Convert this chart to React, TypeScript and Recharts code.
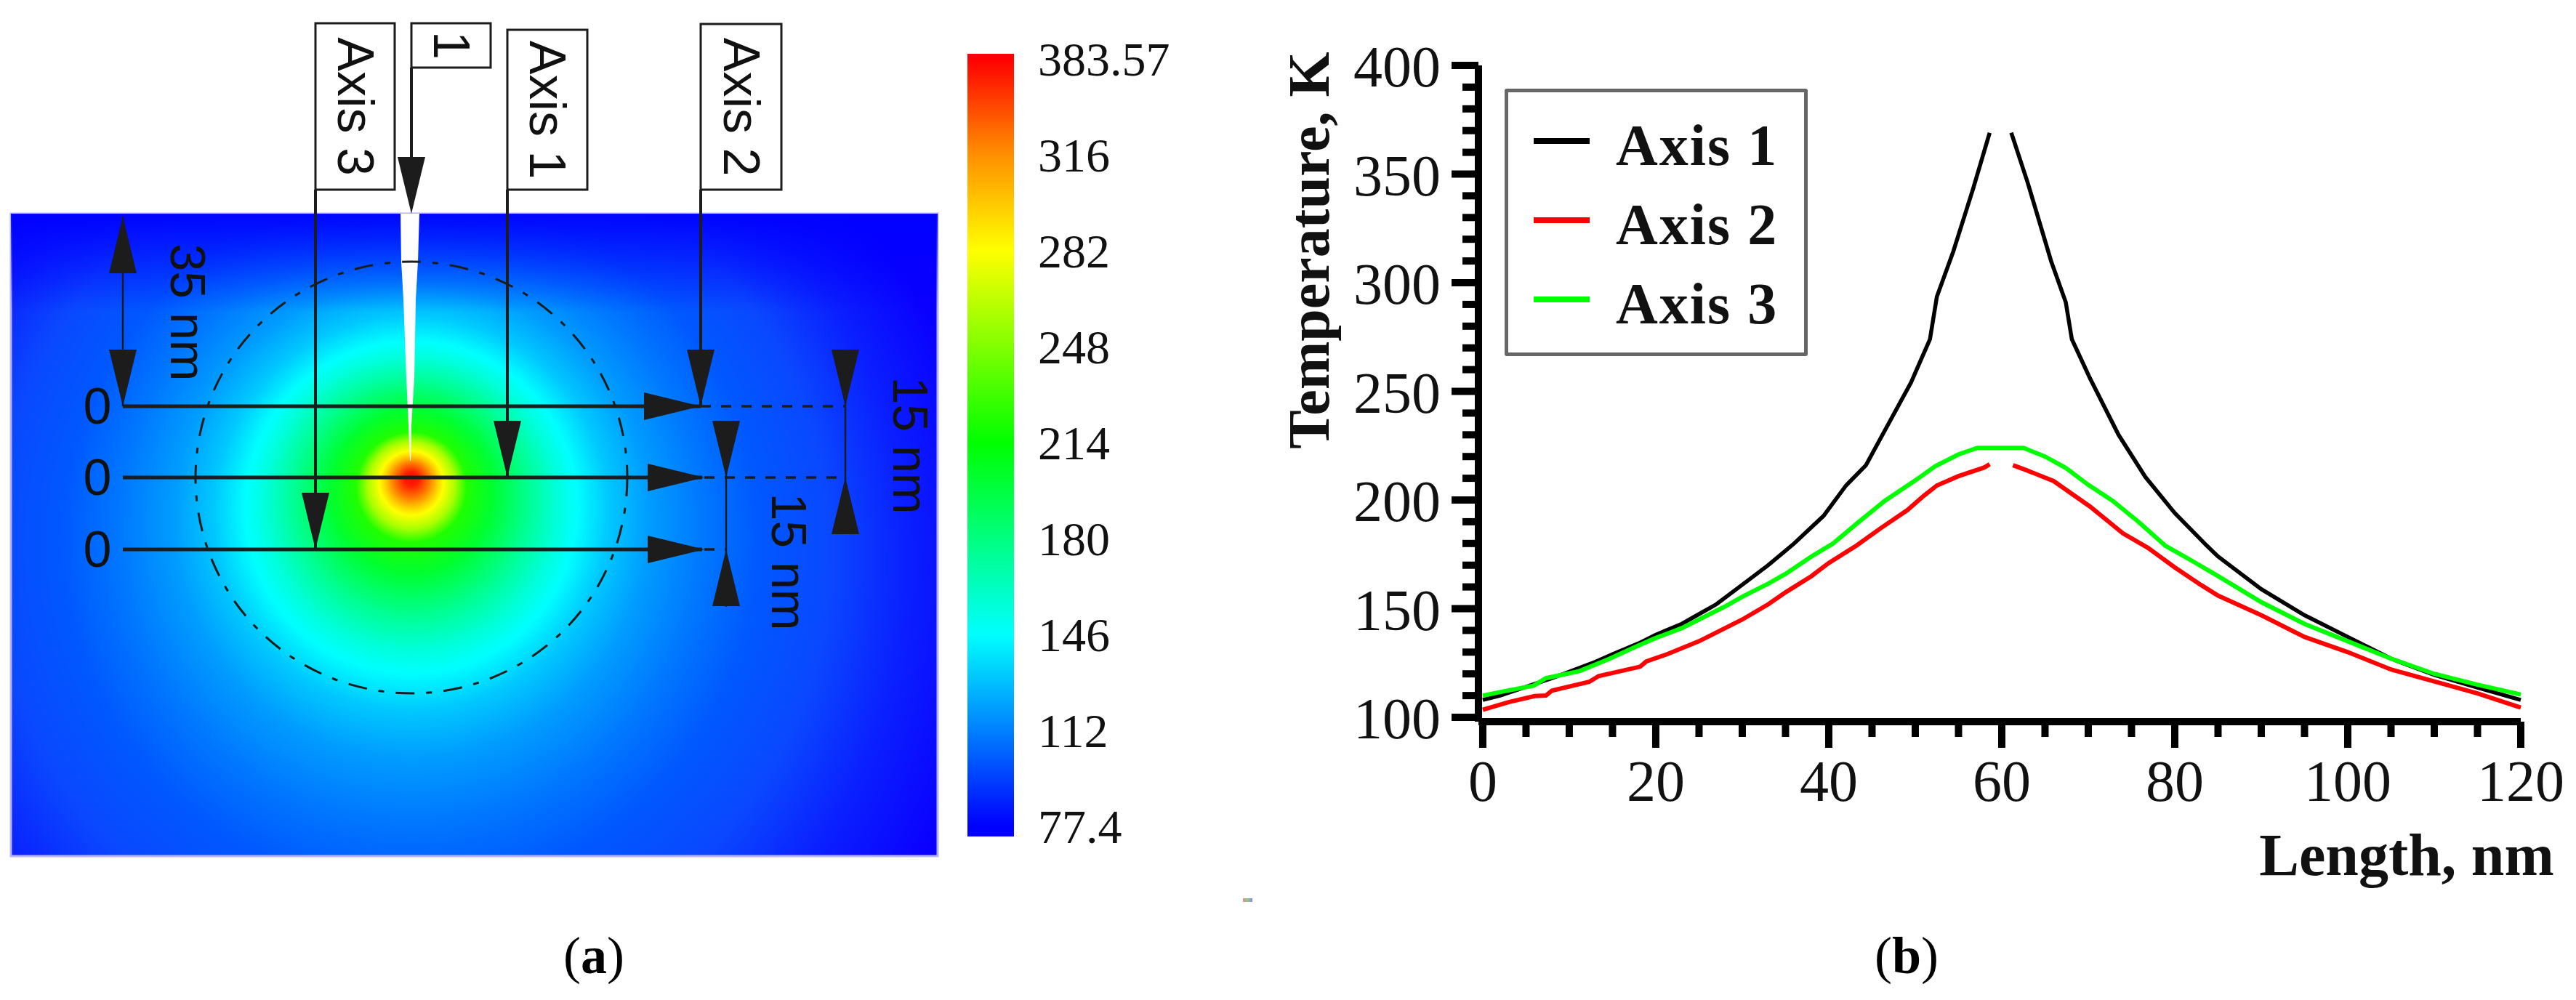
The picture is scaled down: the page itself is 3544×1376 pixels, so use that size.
import React from 'react'
import { ComposedChart, LineChart, Line, XAxis, YAxis, ReferenceArea, Legend } from 'recharts'

const SERIF = '"Liberation Serif", serif'
const SANS = '"Liberation Sans", sans-serif'
const INK = '#1c1c1c'

// panel (b): temperature along each axis. null = gap at the tip
const axis1X = [0, 2, 5, 8, 10, 13, 15, 18, 20, 23, 25, 27, 30, 33, 36, 39.4, 42, 44.3, 45.8, 49.5, 51.7, 52.5, 54.4, 56.7, 58.6, 60, 61.1, 63, 65.7, 67.4, 68.1, 70.2, 73.5, 76.6, 80, 83.7, 85, 90, 95, 100, 105, 110, 115, 120]
const axis1T = [108, 110, 114, 118, 121, 125.5, 129, 134, 138, 143, 147.5, 152, 161, 170, 180, 192.7, 206.7, 216, 227, 254, 274, 293.6, 314.4, 343.4, 369, null, 369, 346, 310, 291, 274, 256, 230, 210.6, 194, 179, 174, 159, 147, 137, 127, 119.5, 113.7, 108]

const axis2X = [0, 3, 6, 7.3, 8, 12.3, 13.4, 18.2, 18.9, 21.3, 25, 27, 30, 33, 35, 38, 40, 43.2, 46, 49.1, 51, 52.5, 55, 58, 58.6, 60, 61.3, 63, 66, 70.2, 74, 76.9, 80, 83, 85, 90, 95, 100, 105, 110, 115, 120]
const axis2T = [103.5, 107, 109.8, 110, 112.3, 116.3, 119, 123.3, 125.7, 129, 135, 139, 145, 152, 157.5, 165, 171, 179, 187, 195.4, 202, 206.7, 211, 215, 216.5, null, 216, 213.5, 208.7, 197, 184.7, 178, 169, 161, 156, 147, 137, 130, 122, 116.5, 111, 104.5]

const axis3X = [0, 2.5, 5.9, 7.3, 11.2, 14.5, 18, 20, 23, 25, 28, 30, 33, 35, 38, 40.5, 43.5, 46.5, 50, 52.3, 55, 57.2, 60, 62.5, 65, 67.4, 70, 72.8, 75.8, 78.9, 82, 85, 90, 95, 100, 105, 110, 115, 120]
const axis3T = [110, 112, 114.6, 118, 121.3, 126.7, 133, 136.5, 141, 145, 151, 155.5, 161.5, 166, 174, 180, 190, 199.7, 209, 215.5, 221, 224, 224, 224, 220, 214.8, 207, 199.7, 190, 179, 172, 165, 153, 143, 135, 127, 120, 115, 110.5]

const lengthTicks = [0, 5, 10, 15, 20, 25, 30, 35, 40, 45, 50, 55, 60, 65, 70, 75, 80, 85, 90, 95, 100, 105, 110, 115, 120]
const tempTicks = [100, 110, 120, 130, 140, 150, 160, 170, 180, 190, 200, 210, 220, 230, 240, 250, 260, 270, 280, 290, 300, 310, 320, 330, 340, 350, 360, 370, 380, 390, 400]

// panel (a): colour bar labels, evenly spaced on the bar
const barLabels = ['77.4', '112', '146', '180', '214', '248', '282', '316', '383.57']
const barColors = ['#0000ff', '#0080ff', '#00ffff', '#00ff80', '#00ff00', '#80ff00', '#ffff00', '#ff9000', '#ff0000']

// field colours going outward from the hot spot
const fieldOffsets = [0, 0.012, 0.028, 0.045, 0.055, 0.075, 0.095, 0.14, 0.2, 0.25, 0.285, 0.34, 0.41, 0.5, 0.6, 0.72, 0.85, 1]
const fieldColors = ['#f01000', '#ff1c00', '#ff7000', '#ffd000', '#ffff00', '#a8ff00', '#20ff00', '#00ff30', '#00ff90', '#00ffd8', '#00ffff', '#00c8ff', '#009cff', '#0078ff', '#0058ff', '#0a48ff', '#0a20ff', '#0a00ff']

const zip = (xs: number[], ys: (number | null)[]) => xs.map((x, i) => ({ x, t: ys[i] }))

function YTick({ x, y, payload }: any) {
  const major = payload.value % 50 === 0
  const len = major ? 37 : 22
  return (
    <g>
      <rect x={x - len} y={y - 5} width={len} height={10} fill="#000" />
      {major && (
        <text x={x - 52} y={y + 2} textAnchor="end" dominantBaseline="central" fontSize={80} fontFamily={SERIF} fill="#111">
          {payload.value}
        </text>
      )}
    </g>
  )
}

function XTick({ x, y, payload }: any) {
  const major = payload.value % 20 === 0
  const len = major ? 36 : 21
  return (
    <g>
      <rect x={x - 5} y={y} width={10} height={len} fill="#000" />
      {major && (
        <text x={x} y={y + 82} textAnchor="middle" dominantBaseline="central" fontSize={80} fontFamily={SERIF} fill="#111">
          {payload.value}
        </text>
      )}
    </g>
  )
}

function LegendBox({ payload }: any) {
  return (
    <div style={{ width: 417, height: 368, boxSizing: 'border-box', border: '5px solid #666', borderRadius: 3, background: '#fff', position: 'relative' }}>
      {(payload || []).map((p: any, i: number) => (
        <div key={p.value} style={{ position: 'absolute', left: 35, top: 22 + i * 109, height: 90, display: 'flex', alignItems: 'center' }}>
          <span style={{ width: 77, height: 8, background: p.color, display: 'inline-block', marginRight: 36 }} />
          <span style={{ fontFamily: SERIF, fontWeight: 700, fontSize: 80, letterSpacing: 2, color: '#111', whiteSpace: 'nowrap', position: 'relative', top: 6 }}>{p.value}</span>
        </div>
      ))}
    </div>
  )
}

function Arrow({ tipX, tipY, dir, len = 78, half = 19 }: { tipX: number; tipY: number; dir: 'up' | 'down' | 'right'; len?: number; half?: number }) {
  let pts = ''
  if (dir === 'right') pts = `${tipX},${tipY} ${tipX - len},${tipY - half} ${tipX - len},${tipY + half}`
  if (dir === 'down') pts = `${tipX},${tipY} ${tipX - half},${tipY - len} ${tipX + half},${tipY - len}`
  if (dir === 'up') pts = `${tipX},${tipY} ${tipX - half},${tipY + len} ${tipX + half},${tipY + len}`
  return <polygon points={pts} fill={INK} />
}

function Rotated({ cx, cy, size, children }: { cx: number; cy: number; size: number; children: string }) {
  return (
    <text x={cx} y={cy} transform={`rotate(90 ${cx} ${cy})`} textAnchor="middle" dominantBaseline="central" fontSize={size} fontFamily={SANS} fill="#111">
      {children}
    </text>
  )
}

function LabelBox({ x, y, w, h, text }: { x: number; y: number; w: number; h: number; text: string }) {
  return (
    <g>
      <rect x={x} y={y} width={w} height={h} fill="#fff" stroke={INK} strokeWidth={3} />
      <Rotated cx={x + w / 2} cy={y + h / 2} size={70}>{text}</Rotated>
    </g>
  )
}

// schematic drawn over the temperature field, in picture pixels
function Schematic() {
  const line = { stroke: INK, strokeWidth: 5 }
  const thin = { stroke: INK, strokeWidth: 2.5 }
  const dash = { stroke: INK, strokeWidth: 3.5, strokeDasharray: '14 14' }
  return (
    <svg width={1320} height={1376} style={{ position: 'absolute', left: 0, top: 0, overflow: 'visible' }}>
      <polygon points="551,294 577,294 575,360 572,412 570,520 566,585 565,634 564,634 562,585 559,520 555,412 552,360" fill="#fff" />
      <circle cx={566} cy={657} r={297} fill="none" stroke={INK} strokeWidth={3} strokeDasharray="26 16 8 16" />

      <line x1={169} y1={559} x2={964} y2={559} {...line} />
      <line x1={169} y1={657} x2={966} y2={657} {...line} />
      <line x1={169} y1={756} x2={966} y2={756} {...line} />
      <Arrow tipX={964} tipY={559} dir="right" />
      <Arrow tipX={969} tipY={657} dir="right" />
      <Arrow tipX={969} tipY={756} dir="right" />

      <line x1={434} y1={261} x2={434} y2={756} stroke={INK} strokeWidth={4} />
      <line x1={698} y1={261} x2={698} y2={657} stroke={INK} strokeWidth={4} />
      <line x1={964} y1={261} x2={964} y2={559} stroke={INK} strokeWidth={4} />
      <line x1={566} y1={93} x2={566} y2={280} stroke={INK} strokeWidth={4} />
      <Arrow tipX={434} tipY={756} dir="down" />
      <Arrow tipX={698} tipY={657} dir="down" />
      <Arrow tipX={964} tipY={559} dir="down" />
      <Arrow tipX={566} tipY={294} dir="down" />

      <LabelBox x={434} y={32} w={109} h={229} text="Axis 3" />
      <LabelBox x={566} y={32} w={109} h={61} text="1" />
      <LabelBox x={698} y={41} w={110} h={220} text="Axis 1" />
      <LabelBox x={964} y={33} w={111} h={228} text="Axis 2" />

      <line x1={169} y1={298} x2={169} y2={559} {...thin} />
      <Arrow tipX={169} tipY={298} dir="up" />
      <Arrow tipX={169} tipY={559} dir="down" />
      <Rotated cx={259} cy={430} size={68}>35 nm</Rotated>

      <line x1={964} y1={559} x2={1163} y2={559} {...dash} />
      <line x1={969} y1={657} x2={1163} y2={657} {...dash} />
      <line x1={969} y1={756} x2={999} y2={756} {...dash} />

      <line x1={1163} y1={482} x2={1163} y2={735} {...thin} />
      <Arrow tipX={1163} tipY={559} dir="down" />
      <Arrow tipX={1163} tipY={657} dir="up" />
      <Rotated cx={1253} cy={613} size={68}>15 nm</Rotated>

      <line x1={999} y1={579} x2={999} y2={835} {...thin} />
      <Arrow tipX={999} tipY={657} dir="down" />
      <Arrow tipX={999} tipY={756} dir="up" />
      <Rotated cx={1086} cy={773} size={68}>15 nm</Rotated>

      {['559', '657', '756'].map((y) => (
        <text key={y} x={134} y={Number(y)} textAnchor="middle" dominantBaseline="central" fontSize={70} fontFamily={SANS} fill="#111">0</text>
      ))}
    </svg>
  )
}

function Caption({ x, letter }: { x: number; letter: string }) {
  return (
    <div style={{ position: 'absolute', left: x - 60, width: 120, top: 1275, textAlign: 'center', fontFamily: SERIF, fontSize: 72, lineHeight: '80px', color: '#000' }}>
      (<b>{letter}</b>)
    </div>
  )
}

export default function App() {
  return (
    <div style={{ position: 'absolute', left: 0, top: 0, width: 3544, height: 1376, background: '#fff', overflow: 'hidden' }}>
      {/* temperature field */}
      <div style={{ position: 'absolute', left: 0, top: 0 }}>
        <ComposedChart width={1320} height={1376} data={[{ x: 0, y: 0 }, { x: 170, y: 118 }]} margin={{ top: 294, left: 15, right: 30, bottom: 198 }}>
          <defs>
            <radialGradient id="field" gradientUnits="userSpaceOnUse" cx={566} cy={800} r={800} fx={566} fy={657}>
              {fieldOffsets.map((o, i) => <stop key={o} offset={o} stopColor={fieldColors[i]} />)}
            </radialGradient>
            <linearGradient id="fieldTop" x1="0" y1="0" x2="0" y2="1">
              <stop offset="0" stopColor="#0000ff" stopOpacity={0.95} />
              <stop offset="1" stopColor="#0000ff" stopOpacity={0} />
            </linearGradient>
          </defs>
          <XAxis type="number" dataKey="x" domain={[0, 170]} hide />
          <YAxis type="number" dataKey="y" domain={[0, 118]} hide />
          <ReferenceArea x1={0} x2={170} y1={0} y2={118} fill="url(#field)" fillOpacity={1} stroke="#b4b4ff" strokeWidth={3} />
          <ReferenceArea x1={0} x2={170} y1={100} y2={118} fill="url(#fieldTop)" fillOpacity={1} stroke="none" />
        </ComposedChart>
      </div>
      <Schematic />

      {/* colour bar */}
      <div style={{ position: 'absolute', left: 1300, top: 0 }}>
        <ComposedChart width={360} height={1376} data={barLabels.map((_, i) => ({ x: i / 8, i }))} margin={{ top: 74, left: 31, right: 0, bottom: 225 }}>
          <defs>
            <linearGradient id="bar" x1="0" y1="1" x2="0" y2="0">
              {barColors.map((c, i) => <stop key={c} offset={(i + 0.106) / 8.159} stopColor={c} />)}
            </linearGradient>
          </defs>
          <XAxis type="number" dataKey="x" domain={[0, 1]} hide />
          <YAxis
            orientation="right"
            type="number"
            dataKey="i"
            width={265}
            domain={[-0.106, 8.053]}
            ticks={barLabels.map((_, i) => i)}
            interval={0}
            tickFormatter={(i: number) => barLabels[i]}
            axisLine={false}
            tickLine={false}
            tickSize={0}
            tickMargin={33}
            tick={{ fontSize: 66, fontFamily: SERIF, fill: '#111' }}
          />
          <ReferenceArea x1={0} x2={1} y1={-0.106} y2={8.053} fill="url(#bar)" fillOpacity={1} stroke="none" />
        </ComposedChart>
      </div>

      {/* line chart */}
      <div style={{ position: 'absolute', left: 1700, top: 0 }}>
        <LineChart width={1844} height={1376} margin={{ top: 90, left: 14, right: 76, bottom: 303 }}>
          <XAxis
            type="number"
            dataKey="x"
            domain={[-0.5, 120]}
            ticks={lengthTicks}
            interval={0}
            height={80}
            axisLine={{ stroke: '#000', strokeWidth: 10 }}
            tickLine={false}
            tickSize={0}
            tickMargin={0}
            tick={<XTick />}
            label={{ value: 'Length, nm', position: 'center', dx: 560, dy: 142, fontSize: 82, fontWeight: 700, fontFamily: SERIF, fill: '#111' }}
          />
          <YAxis
            type="number"
            width={320}
            domain={[98, 400]}
            ticks={tempTicks}
            interval={0}
            axisLine={{ stroke: '#000', strokeWidth: 10 }}
            tickLine={false}
            tickSize={0}
            tickMargin={0}
            tick={<YTick />}
            label={{ value: 'Temperature, K', angle: -90, position: 'center', dx: -74, dy: -197, fontSize: 80, fontWeight: 700, fontFamily: SERIF, fill: '#111' }}
          />
          <Legend
            layout="vertical"
            align="center"
            verticalAlign="middle"
            content={<LegendBox />}
            wrapperStyle={{ left: 370, top: 122, width: 417, height: 368 }}
          />
          <Line name="Axis 1" data={zip(axis1X, axis1T)} dataKey="t" stroke="#000000" strokeWidth={5.5} dot={false} isAnimationActive={false} />
          <Line name="Axis 2" data={zip(axis2X, axis2T)} dataKey="t" stroke="#ff0000" strokeWidth={6} dot={false} isAnimationActive={false} />
          <Line name="Axis 3" data={zip(axis3X, axis3T)} dataKey="t" stroke="#00ff00" strokeWidth={6} dot={false} isAnimationActive={false} />
        </LineChart>
      </div>

      <Caption x={817} letter="a" />
      <Caption x={2623} letter="b" />
      <div style={{ position: 'absolute', left: 1710, top: 1236, width: 13, height: 5, background: 'linear-gradient(90deg,#e88,#8c8,#88e)' }} />
    </div>
  )
}
